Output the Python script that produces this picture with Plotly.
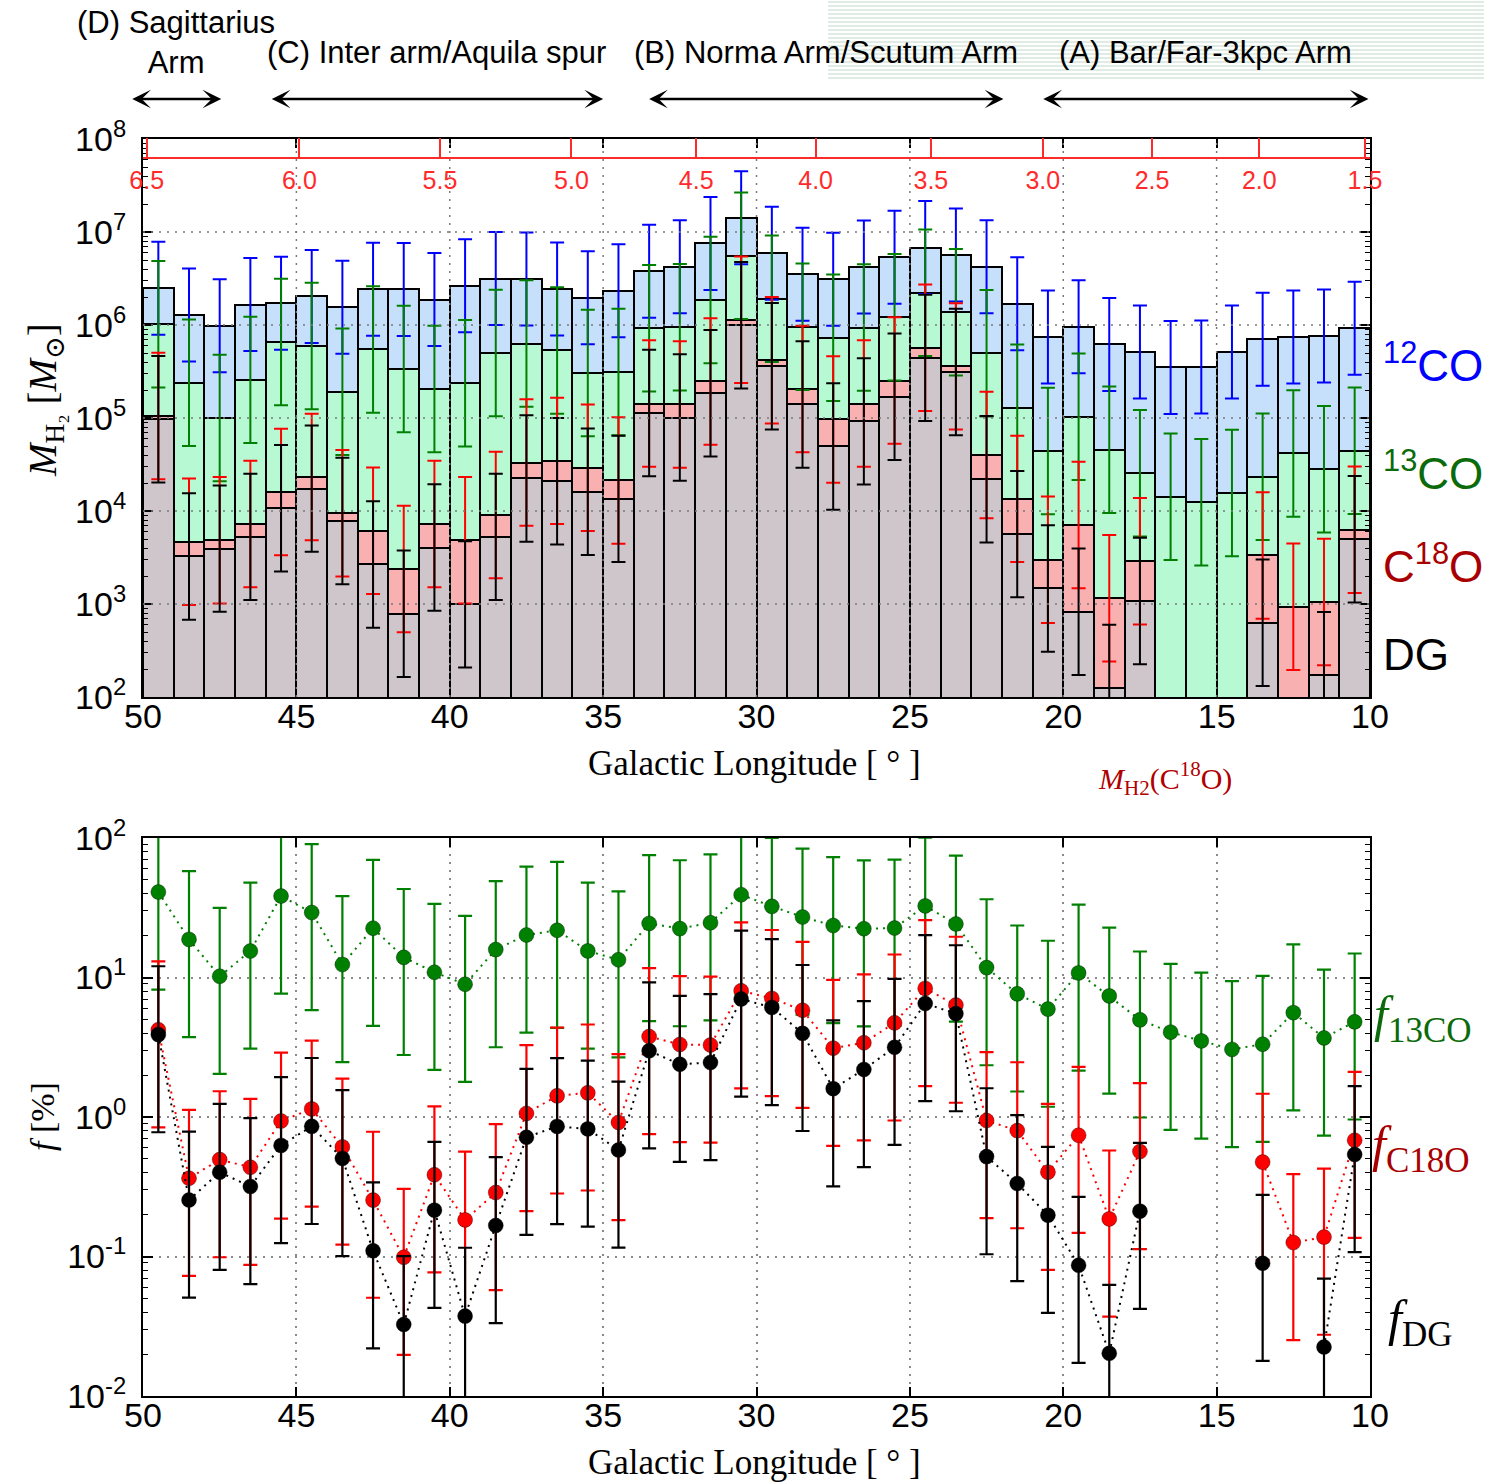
import numpy as np
import plotly.graph_objects as go

# ---------------------------------------------------------------------------
# Data: 1-degree Galactic-longitude bins from l = 50 deg down to l = 10 deg
# ---------------------------------------------------------------------------
l_center = [50 - 0.5 - i for i in range(40)]   # 49.5 ... 10.5

# Molecular gas mass per bin [M_sun]
m_12co = [2.49e6, 1.28e6, 9.8e5, 1.66e6, 1.71e6, 2.03e6, 1.55e6, 2.42e6, 2.41e6, 1.88e6,
          2.65e6, 3.16e6, 3.13e6, 2.44e6, 1.96e6, 2.33e6, 3.79e6, 4.23e6, 7.53e6, 1.42e7,
          5.90e6, 3.52e6, 3.10e6, 4.20e6, 5.35e6, 6.81e6, 5.66e6, 4.23e6, 1.69e6, 7.43e5,
          9.55e5, 6.18e5, 5.11e5, 3.50e5, 3.53e5, 5.11e5, 7.01e5, 7.43e5, 7.62e5, 9.25e5]
m_13co = [1.02e6, 2.40e5, 1.00e5, 2.57e5, 6.56e5, 5.93e5, 1.92e5, 5.46e5, 3.36e5, 2.05e5,
          2.37e5, 5.01e5, 6.31e5, 5.32e5, 3.04e5, 3.12e5, 9.25e5, 9.48e5, 1.86e6, 5.57e6,
          1.91e6, 9.55e5, 7.31e5, 9.40e5, 1.21e6, 2.22e6, 1.37e6, 4.98e5, 1.29e5, 4.41e4,
          1.03e5, 4.56e4, 2.54e4, 1.42e4, 1.24e4, 1.56e4, 2.33e4, 4.16e4, 2.81e4, 4.45e4]
m_c18o = [1.05e5, 4.66e3, 4.85e3, 7.24e3, 1.60e4, 2.32e4, 9.46e3, 6.14e3, 2.38e3, 7.24e3,
          4.85e3, 9.08e3, 3.32e4, 3.46e4, 2.92e4, 2.13e4, 1.43e5, 1.40e5, 2.47e5, 1.14e6,
          4.18e5, 2.05e5, 9.66e4, 1.43e5, 2.53e5, 5.69e5, 3.59e5, 3.99e4, 1.35e4, 2.99e3,
          7.06e3, 1.15e3, 2.89e3, None, None, None, 3.33e3, 9.35e2, 1.05e3, 6.30e3]
m_dg = [9.7e4, 3.25e3, 3.94e3, 5.27e3, 1.07e4, 1.74e4, 7.82e3, 2.66e3, 7.85e2, 4.04e3,
        9.91e2, 5.27e3, 2.24e4, 2.09e4, 1.61e4, 1.35e4, 1.13e5, 1.01e5, 1.85e5, 9.95e5,
        3.60e5, 1.40e5, 4.95e4, 9.20e4, 1.69e5, 4.43e5, 3.12e5, 2.20e4, 5.64e3, 1.47e3,
        8.26e2, 1.25e2, 1.08e3, None, None, None, 6.27e2, None, 1.71e2, 4.98e3]

# Uncertainties, as symmetric/asymmetric widths in dex
err_dex_mass = {"12CO": 0.50, "13CO": 0.68, "C18O": 0.68, "DG": 0.68}
err_dex_frac_up, err_dex_frac_down = 0.49, 0.70

# Galactocentric radius scale (tangent points, R = R0 sin l)
R0 = 8.5
r_ticks = [6.5, 6.0, 5.5, 5.0, 4.5, 4.0, 3.5, 3.0, 2.5, 2.0, 1.5]

# Spiral-arm segments along longitude
arm_labels = ["(D) Sagittarius<br>Arm", "(C) Inter arm/Aquila spur",
              "(B) Norma Arm/Scutum Arm", "(A) Bar/Far-3kpc Arm"]
arm_l_start = [50.4, 45.85, 33.55, 20.7]
arm_l_end = [47.45, 35.0, 21.95, 10.05]

# ---------------------------------------------------------------------------
# Page geometry helpers (pixels -> paper fractions)
# ---------------------------------------------------------------------------
W, H = 1502, 1484
ML, MR, MT, MB = 143, 132, 139, 88
PW, PH = W - ML - MR, H - MT - MB


def pyf(pix):
    return (H - MB - pix) / PH


def pxf(pix):
    return (pix - ML) / PW


SANS = "Liberation Sans, Arial, Helvetica, sans-serif"
SERIF = "Liberation Serif, Times New Roman, DejaVu Serif, serif"

C_BAR = {"12CO": "#c6dffa", "13CO": "#b6f9d3", "C18O": "#f8b0b0", "DG": "#cfc6cc"}
C_ERR = {"12CO": "#0000ff", "13CO": "#008000", "C18O": "#ff0000", "DG": "#000000"}
C_LBL = {"12CO": "#0000ff", "13CO": "#0b6b0b", "C18O": "#a80000", "DG": "#000000"}

series = [("12CO", m_12co), ("13CO", m_13co), ("C18O", m_c18o), ("DG", m_dg)]


def dex_err(vals, up, down):
    plus = [None if v is None else v * (10 ** up - 1) for v in vals]
    minus = [None if v is None else v * (1 - 10 ** (-down)) for v in vals]
    return plus, minus


fig = go.Figure()

# ---------------- top panel: mass histograms ----------------
for name, vals in series:
    fig.add_trace(go.Bar(
        x=l_center, y=vals, width=1.0, xaxis="x", yaxis="y",
        marker=dict(color=C_BAR[name], line=dict(color="black", width=2)),
        hoverinfo="skip", showlegend=False))

for name, vals in series:
    d = err_dex_mass[name]
    plus, minus = dex_err(vals, d, d)
    fig.add_trace(go.Scatter(
        x=l_center, y=vals, mode="markers", xaxis="x", yaxis="y",
        marker=dict(size=2, opacity=0),
        error_y=dict(type="data", array=plus, arrayminus=minus, symmetric=False,
                     color=C_ERR[name], thickness=2, width=7),
        hoverinfo="skip", showlegend=False))

# invisible carrier trace for the galactocentric-radius axis
fig.add_trace(go.Scatter(x=l_center, y=m_12co, xaxis="x3", yaxis="y", mode="markers",
                         marker=dict(opacity=0), hoverinfo="skip", showlegend=False))

# ---------------- bottom panel: mass fractions ----------------
frac_series = [("13CO", m_13co), ("C18O", m_c18o), ("DG", m_dg)]
for name, vals in frac_series:
    f = [None if v is None else 100.0 * v / m for v, m in zip(vals, m_12co)]
    plus, minus = dex_err(f, err_dex_frac_up, err_dex_frac_down)
    col = C_ERR[name]
    fig.add_trace(go.Scatter(
        x=l_center, y=f, mode="lines+markers", xaxis="x2", yaxis="y2",
        connectgaps=False,
        line=dict(color=col, width=2, dash="2px,5px"),
        marker=dict(color=col, size=15, line=dict(color="rgba(0,0,0,0.35)", width=1)),
        error_y=dict(type="data", array=plus, arrayminus=minus, symmetric=False,
                     color=col, thickness=2.2, width=7),
        hoverinfo="skip", showlegend=False))

# ---------------------------------------------------------------------------
# Axes
# ---------------------------------------------------------------------------
tickfont = dict(family=SANS, size=34, color="black")
x_ticks = [50, 45, 40, 35, 30, 25, 20, 15, 10]
common_x = dict(range=[50, 10], tickmode="array", tickvals=x_ticks,
                ticktext=[str(t) for t in x_ticks], ticks="inside", ticklen=9,
                tickwidth=1.5, tickcolor="black", showline=True, linecolor="black",
                linewidth=2, mirror="ticks", zeroline=False, tickfont=tickfont,
                ticklabelstandoff=-12)


def log_y(lo, hi):
    vals = [10.0 ** e for e in range(lo, hi + 1)]
    txt = ["10<sup>%s</sup>" % (str(e) if e >= 0 else "-" + str(-e)) for e in range(lo, hi + 1)]
    minor_vals = [k * 10.0 ** e for e in range(lo, hi) for k in range(2, 10)]
    return dict(type="log", range=[lo, hi], tickmode="array", tickvals=vals, ticktext=txt,
                ticks="inside", ticklen=10, tickwidth=1.5, tickcolor="black",
                minor=dict(tickmode="array", tickvals=minor_vals, ticks="inside",
                           ticklen=5, tickwidth=1.2, tickcolor="black", showgrid=False),
                showline=True, linecolor="black", linewidth=2, mirror="ticks",
                zeroline=False, tickfont=tickfont, ticklabelstandoff=8)


top_dom = [pyf(697), 1.0]
bot_dom = [0.0, pyf(838)]

fig.update_layout(
    xaxis=dict(common_x, domain=[0, 1], anchor="y", showgrid=False),
    yaxis=dict(log_y(2, 8), domain=top_dom, anchor="x", showgrid=False),
    xaxis2=dict(common_x, domain=[0, 1], anchor="y2", showgrid=True,
                gridcolor="#8a8a8a", gridwidth=1.5, griddash="2px,6px"),
    yaxis2=dict(log_y(-2, 2), domain=bot_dom, anchor="x2", showgrid=True,
                gridcolor="#8a8a8a", gridwidth=1.5, griddash="2px,6px"),
    xaxis3=dict(overlaying="x", anchor="free", position=pyf(158), side="bottom",
                range=[50, 10], tickmode="array",
                tickvals=[float(np.degrees(np.arcsin(r / R0))) for r in r_ticks],
                ticktext=["%.1f" % r for r in r_ticks],
                ticks="inside", ticklen=19, tickwidth=1.5, tickcolor="#ff2a2a",
                showline=True, linecolor="#ff2a2a", linewidth=2, showgrid=False,
                zeroline=False, tickfont=dict(family=SANS, size=25, color="#ff2a2a"),
                ticklabelstandoff=0),
)

# ---------------------------------------------------------------------------
# Shapes: dotted grid drawn over the histogram bars, header stripes
# ---------------------------------------------------------------------------
shapes = []
grid_line = dict(color="#7a7a7a", width=1.5, dash="2px,6px")
for e in range(3, 8):
    shapes.append(dict(type="line", xref="x domain", x0=0, x1=1, yref="y domain",
                       y0=(e - 2) / 6, y1=(e - 2) / 6, line=grid_line, layer="above"))
for lv in x_ticks[1:-1]:
    shapes.append(dict(type="line", xref="x", x0=lv, x1=lv, yref="y domain",
                       y0=0, y1=1, line=grid_line, layer="above"))
for pix in range(2, 80, 4):
    shapes.append(dict(type="line", xref="paper", x0=pxf(828), x1=pxf(1484),
                       yref="paper", y0=pyf(pix), y1=pyf(pix),
                       line=dict(color="#d6e6da", width=1.6), layer="below"))

# ---------------------------------------------------------------------------
# Annotations
# ---------------------------------------------------------------------------
ann = []
for name, a0, a1 in zip(arm_labels, arm_l_start, arm_l_end):
    mid = 0.5 * (a0 + a1)
    ann.append(dict(x=mid, xref="x", y=pyf(43 if "<br>" in name else 52), yref="paper",
                    text=name, showarrow=False, xanchor="center", yanchor="middle",
                    font=dict(family=SANS, size=31, color="black")))
    ann.append(dict(x=a1, xref="x", y=pyf(99), yref="paper", ax=a0, axref="x",
                    ay=0, ayref="pixel", text="", showarrow=True,
                    arrowside="end+start", arrowhead=3, startarrowhead=3,
                    arrowsize=1.3, startarrowsize=1.3, arrowwidth=2.4, arrowcolor="black",
                    standoff=0, startstandoff=0))

side_labels = [("<sup>12</sup>CO", "12CO", 362), ("<sup>13</sup>CO", "13CO", 470),
               ("C<sup>18</sup>O", "C18O", 563), ("DG", "DG", 654)]
for txt, key, ypix in side_labels:
    ann.append(dict(x=pxf(1381), xref="paper", y=pyf(ypix), yref="paper", text=txt,
                    showarrow=False, xanchor="left", yanchor="middle",
                    font=dict(family=SANS, size=44, color=C_LBL[key])))

frac_labels = [("<i>f</i><sub>13CO</sub>", "13CO", 1372, 1018),
               ("<i>f</i><sub>C18O</sub>", "C18O", 1370, 1148),
               ("<i>f</i><sub>DG</sub>", "DG", 1386, 1322)]
for txt, key, xpix, ypix in frac_labels:
    ann.append(dict(x=pxf(xpix), xref="paper", y=pyf(ypix), yref="paper", text=txt,
                    showarrow=False, xanchor="left", yanchor="middle",
                    font=dict(family=SERIF, size=50, color=C_LBL[key])))

for ypix in (763, 1462):
    ann.append(dict(x=pxf(754), xref="paper", y=pyf(ypix), yref="paper",
                    text="Galactic Longitude [ ° ]", showarrow=False,
                    xanchor="center", yanchor="middle",
                    font=dict(family=SERIF, size=35, color="black")))

ann.append(dict(x=pxf(1165), xref="paper", y=pyf(778), yref="paper",
                text="<i>M</i><sub>H2</sub>(C<sup>18</sup>O)", showarrow=False,
                xanchor="center", yanchor="middle",
                font=dict(family=SERIF, size=30, color="#b00000")))
ann.append(dict(x=pxf(45), xref="paper", y=pyf(400), yref="paper",
                text="<i>M</i><sub>H₂</sub> [<i>M</i><sub>⊙</sub>]", showarrow=False,
                textangle=-90, xanchor="center", yanchor="middle",
                font=dict(family=SERIF, size=39, color="black")))
ann.append(dict(x=pxf(42), xref="paper", y=pyf(1117), yref="paper",
                text="<i>f</i> [%]", showarrow=False, textangle=-90,
                xanchor="center", yanchor="middle",
                font=dict(family=SERIF, size=34, color="black")))

fig.update_layout(
    width=W, height=H, margin=dict(l=ML, r=MR, t=MT, b=MB, pad=0),
    paper_bgcolor="white", plot_bgcolor="white",
    barmode="overlay", bargap=0, showlegend=False,
    shapes=shapes, annotations=ann,
)

fig.write_html("out.html")
